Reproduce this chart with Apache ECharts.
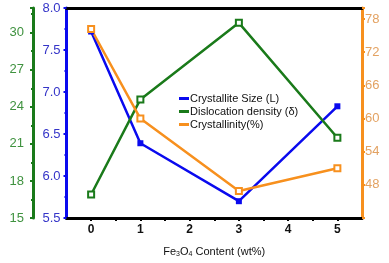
<!DOCTYPE html>
<html><head><meta charset="utf-8">
<script src="https://cdn.jsdelivr.net/npm/echarts@6/dist/echarts.min.js"></script>
<style>html,body{margin:0;padding:0;background:#fff}#c{width:389px;height:263px}</style>
</head><body><div id="c"></div>
<script>
const xValues = [0, 1, 3, 5];
const crystalliteSize = [7.72, 6.39, 5.70, 6.83];
const dislocationDensity = [16.9, 24.6, 30.8, 21.5];
const crystallinity = [76.2, 60.0, 46.9, 51.0];
const seriesNames = ['Crystallite Size (L)', 'Dislocation density (\u03b4)', 'Crystallinity(%)'];

const FONT = '"Liberation Sans", Arial, sans-serif';
const BLUE = '#0a0aee', GREEN = '#1a7a1a', ORANGE = '#f7901e';

const chart = echarts.init(document.getElementById('c'), null, {renderer: 'canvas'});
const pairs = arr => xValues.map((x, i) => [x, arr[i]]);

chart.setOption({
  animation: false,
  grid: {left: 66.5, right: 27, top: 8, bottom: 44},
  legend: {
    orient: 'vertical', left: 174, top: 88, itemGap: 2,
    itemWidth: 10, itemHeight: 3, icon: 'rect',
    textStyle: {fontFamily: FONT, fontSize: 11, color: '#111', padding: [0,0,0,-4]},
    data: seriesNames
  },
  xAxis: [{
    type: 'value', min: -0.5, max: 5.5, interval: 0.5,
    name: 'Fe{s|3}O{s|4} Content (wt%)', nameLocation: 'middle', nameGap: 27,
    nameTextStyle: {fontFamily: FONT, fontSize: 11, color: '#111',
      rich: {s: {fontSize: 7, verticalAlign: 'bottom', padding: [6,0,0,0], fontFamily: FONT}}},
    axisLine: {onZero: false, lineStyle: {color: '#000', width: 3}},
    axisTick: {lineStyle: {color: '#000', width: 2}, length: 3},
    axisLabel: {fontFamily: FONT, fontSize: 12, fontWeight: 'bold', color: '#111', margin: 6,
      formatter: v => Number.isInteger(v) ? String(v) : '' , showMinLabel: false, showMaxLabel: false},
    splitLine: {show: false}
  }, {
    type: 'value', position: 'top', min: -0.5, max: 5.5,
    axisLine: {show: true, onZero: false, lineStyle: {color: '#000', width: 3}},
    axisTick: {show: false}, axisLabel: {show: false}, splitLine: {show: false}
  }],
  yAxis: [{
    type: 'value', position: 'left', min: 5.5, max: 8.0, interval: 0.5,
    axisLine: {show: true, onZero: false, lineStyle: {color: BLUE, width: 3}},
    axisTick: {show: true, length: 3, lineStyle: {color: BLUE, width: 2}},
    minorTick: {show: true, splitNumber: 2, length: 2, lineStyle: {color: BLUE, width: 2}},
    axisLabel: {fontFamily: FONT, fontSize: 13, color: '#3535c8', margin: 6,
      formatter: v => v.toFixed(1)},
    splitLine: {show: false}
  }, {
    type: 'value', position: 'left', offset: 33.5, min: 15, max: 32, interval: 3,
    axisLine: {show: true, onZero: false, lineStyle: {color: GREEN, width: 3}},
    axisTick: {show: true, length: 3, lineStyle: {color: GREEN, width: 2}},
    minorTick: {show: true, splitNumber: 2, length: 2, lineStyle: {color: GREEN, width: 2}},
    axisLabel: {fontFamily: FONT, fontSize: 13, color: '#3f923f', margin: 9, showMaxLabel: false},
    splitLine: {show: false}
  }, {
    type: 'value', position: 'right', min: 42, max: 80, interval: 6,
    axisLine: {show: true, onZero: false, lineStyle: {color: ORANGE, width: 3}},
    axisTick: {show: true, length: 3, lineStyle: {color: ORANGE, width: 2}},
    minorTick: {show: true, splitNumber: 2, length: 2, lineStyle: {color: ORANGE, width: 2}},
    axisLabel: {fontFamily: FONT, fontSize: 13, color: '#e3a262', margin: 3,
      showMinLabel: false, showMaxLabel: false},
    splitLine: {show: false}
  }],
  series: [{
    name: seriesNames[0], type: 'line', yAxisIndex: 0, data: pairs(crystalliteSize),
    symbol: 'rect', symbolSize: 6, showAllSymbol: true,
    lineStyle: {color: BLUE, width: 2.5}, itemStyle: {color: BLUE}, color: BLUE
  }, {
    name: seriesNames[1], type: 'line', yAxisIndex: 1, data: pairs(dislocationDensity),
    symbol: 'emptyRect', symbolSize: 6, showAllSymbol: true,
    lineStyle: {color: GREEN, width: 2.5}, itemStyle: {color: GREEN, borderWidth: 1.2}, color: GREEN
  }, {
    name: seriesNames[2], type: 'line', yAxisIndex: 2, data: pairs(crystallinity),
    symbol: 'emptyRect', symbolSize: 6, showAllSymbol: true,
    lineStyle: {color: ORANGE, width: 2.5}, itemStyle: {color: ORANGE, borderWidth: 1.2}, color: ORANGE
  }]
});
</script></body></html>
